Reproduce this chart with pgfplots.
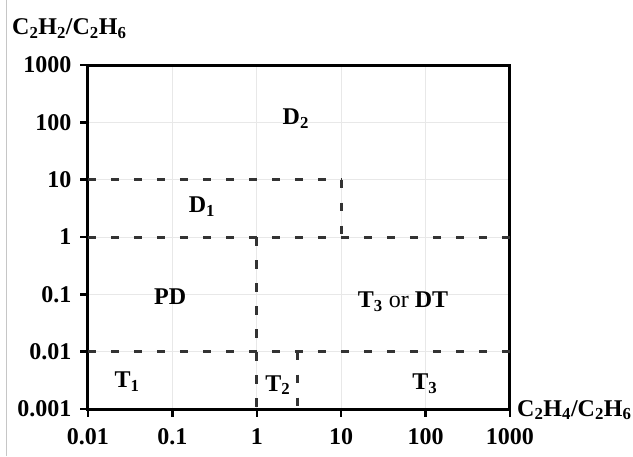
\documentclass[border=0pt]{standalone}
\usepackage{pgfplots}
\pgfplotsset{compat=1.18}
\usepackage{fontspec}
\setmainfont{Liberation Serif}
\newcommand\lab{\fontsize{24}{28}\selectfont\bfseries}
\begin{document}
\begin{tikzpicture}
\path[use as bounding box] (-88pt,-47pt) rectangle (545pt,409pt);
\draw[gray!45, line width=1pt] (-81pt,-47pt) -- (-81pt,409pt);
\begin{axis}[
 at={(0,0)}, anchor=south west,
 scale only axis, width=422pt, height=344pt,
 xmode=log, ymode=log,
 xmin=0.01, xmax=1000, ymin=0.001, ymax=1000,
 xtick={0.01,0.1,1,10,100,1000},
 xticklabels={0.01,0.1,1,10,100,1000},
 ytick={0.001,0.01,0.1,1,10,100,1000},
 yticklabels={0.001,0.01,0.1,1,10,100,1000},
 xminorticks=false, yminorticks=false,
 xtick pos=left, ytick pos=left,
 tick align=outside,
 major tick length=8pt,
 tick style={black, line width=2.5pt},
 axis line style={line width=3pt},
 grid=major, major grid style={gray!18, line width=0.6pt},
 tick label style={font=\lab},
 xticklabel shift=8pt,
 yticklabel shift=5pt,
 clip=false,
 dl/.style={black!80, line width=3pt, dash pattern=on 8.5pt off 14.5pt},
]
\addplot[dl] coordinates {(0.01,10) (10,10)};
\addplot[dl] coordinates {(10,10) (10,1)};
\addplot[dl] coordinates {(0.01,1) (1000,1)};
\addplot[dl] coordinates {(1,1) (1,0.001)};
\addplot[dl] coordinates {(0.01,0.01) (1000,0.01)};
\addplot[dl] coordinates {(3,0.01) (3,0.001)};
\node[font=\lab] at (axis cs:2.9,115) {D\textsubscript{2}};
\node[font=\lab] at (axis cs:0.224,3.35) {D\textsubscript{1}};
\node[font=\lab] at (axis cs:0.094,0.09) {PD};
\node[font=\lab] at (axis cs:54,0.074) {T\textsubscript{3} {\mdseries or} DT};
\node[font=\lab] at (axis cs:0.029,0.003) {T\textsubscript{1}};
\node[font=\lab] at (axis cs:1.78,0.0026) {T\textsubscript{2}};
\node[font=\lab] at (axis cs:98,0.0028) {T\textsubscript{3}};
\end{axis}
\node[font=\lab, anchor=base west, inner sep=0pt] at (-76pt,374pt) {C\textsubscript{2}H\textsubscript{2}/C\textsubscript{2}H\textsubscript{6}};
\node[font=\lab, anchor=base west, inner sep=0pt] at (429pt,-7pt) {C\textsubscript{2}H\textsubscript{4}/C\textsubscript{2}H\textsubscript{6}};
\end{tikzpicture}
\end{document}
